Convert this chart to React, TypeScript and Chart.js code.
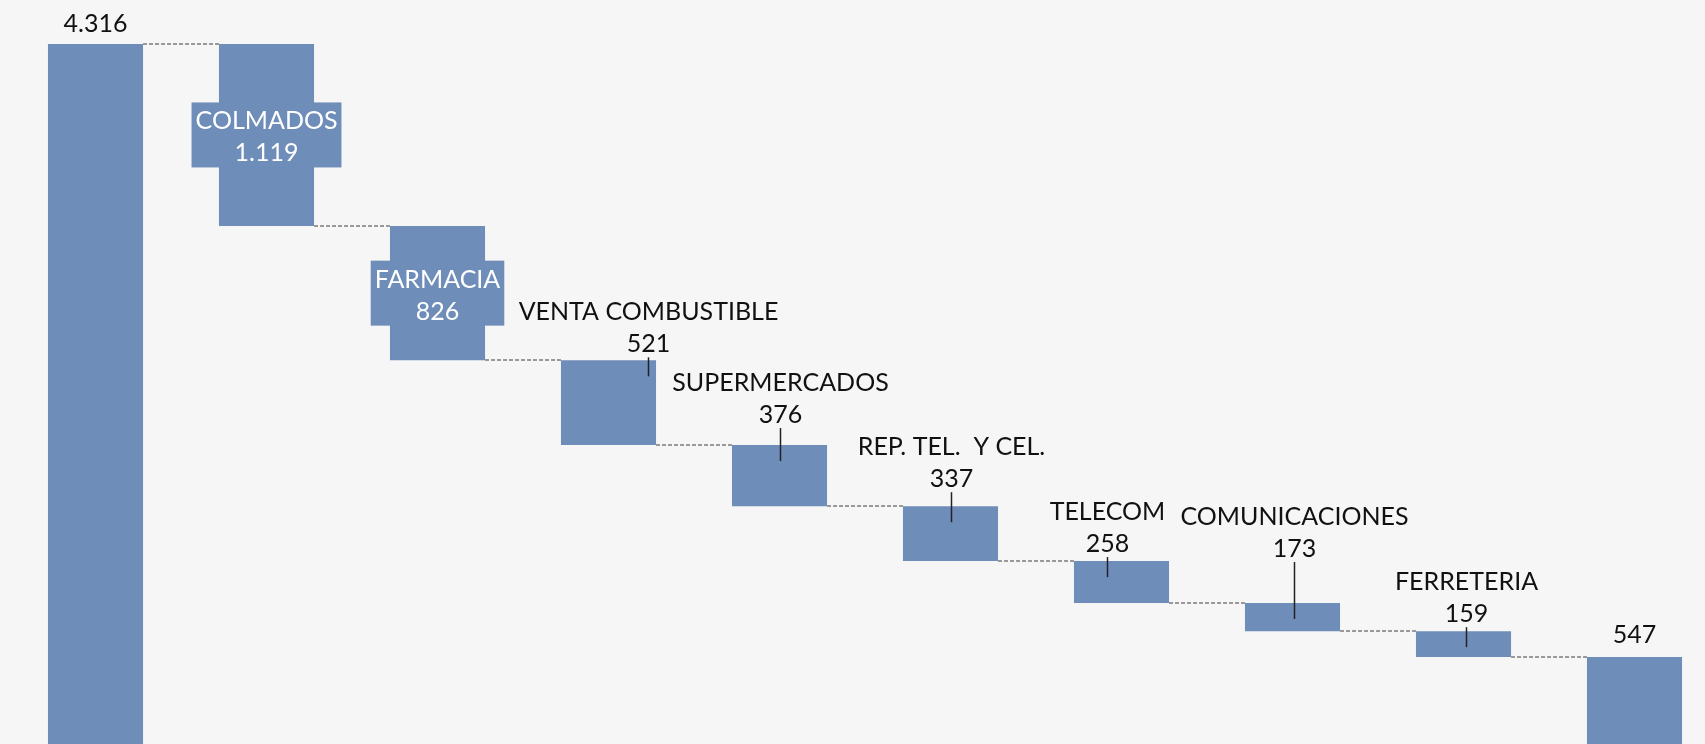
import React, { useEffect, useRef } from "react";
import { Chart, registerables } from "chart.js";

Chart.register(...registerables);

// ---- data ----
const categories = [
  "TOTAL",
  "COLMADOS",
  "FARMACIA",
  "VENTA COMBUSTIBLE",
  "SUPERMERCADOS",
  "REP. TEL.  Y CEL.",
  "TELECOM",
  "COMUNICACIONES",
  "FERRETERIA",
  "RESTO",
];
const values = [4316, -1119, -826, -521, -376, -337, -258, -173, -159, 547];
const kinds = ["total", "delta", "delta", "delta", "delta", "delta", "delta", "delta", "delta", "total"];
// how each label is shown
const labelModes = ["value", "inside", "inside", "leader", "leader", "leader", "leader", "leader", "leader", "value"];
// label placement (pixels) : horizontal shift from bar centre, value baseline above bar top
const labelDx = [0, 0, 0, 40, 1, 1, -14, 2, 3, 0];
const labelDy = [-12, 0, 0, -8, -22, -19, -9, -46, -9, -14];

const BAR_COLOR = "#6e8db9";
const BG = "#f6f6f6";
const FONT = "Lato, 'Open Sans', sans-serif";
const FONT_SIZE = 25;

function fmt(n: number): string {
  const s = String(Math.abs(Math.round(n)));
  return s.replace(/\B(?=(\d{3})+(?!\d))/g, ".");
}

function buildRanges(): [number, number][] {
  let cum = 0;
  return values.map((v, i) => {
    if (kinds[i] === "total") {
      cum = v;
      return [0, v];
    }
    const hi = cum;
    cum = cum + v;
    return [cum, hi];
  });
}

const waterfallPlugin = {
  id: "waterfall",
  beforeDraw(chart: any) {
    const ctx = chart.ctx;
    ctx.save();
    ctx.fillStyle = BG;
    ctx.fillRect(0, 0, chart.width, chart.height);
    ctx.restore();
  },
  afterDatasetsDraw(chart: any) {
    const ctx = chart.ctx;
    const meta = chart.getDatasetMeta(0);
    const yScale = chart.scales.y;
    const ranges = buildRanges();

    // connectors
    ctx.save();
    ctx.strokeStyle = "#7a7a7a";
    ctx.lineWidth = 1.6;
    ctx.setLineDash([4, 2]);
    let cum = 0;
    for (let i = 0; i < values.length - 1; i++) {
      cum = kinds[i] === "total" ? values[i] : cum + values[i];
      const a = meta.data[i];
      const b = meta.data[i + 1];
      const y = Math.round(yScale.getPixelForValue(cum));
      ctx.beginPath();
      ctx.moveTo(a.x + a.width / 2, y);
      ctx.lineTo(b.x - b.width / 2, y);
      ctx.stroke();
    }
    ctx.restore();

    // labels
    ctx.save();
    ctx.font = `${FONT_SIZE}px ${FONT}`;
    ctx.textAlign = "center";
    ctx.textBaseline = "alphabetic";
    for (let i = 0; i < values.length; i++) {
      const el = meta.data[i];
      const topPx = yScale.getPixelForValue(ranges[i][1]);
      const botPx = yScale.getPixelForValue(ranges[i][0]);
      const cx = el.x + labelDx[i];
      const mode = labelModes[i];
      const valText = fmt(values[i]);
      if (mode === "value") {
        ctx.fillStyle = "#111";
        ctx.fillText(valText, cx, topPx + labelDy[i]);
      } else if (mode === "inside") {
        const name = categories[i];
        const w = Math.max(ctx.measureText(name).width, ctx.measureText(valText).width) + 8;
        const h = 65;
        const mid = (topPx + botPx) / 2;
        const boxTop = mid - h / 2;
        ctx.fillStyle = BAR_COLOR;
        ctx.fillRect(cx - w / 2, boxTop, w, h);
        ctx.fillStyle = "#ffffff";
        ctx.fillText(name, cx, boxTop + 27);
        ctx.fillText(valText, cx, boxTop + 59);
      } else {
        const vb = topPx + labelDy[i];
        ctx.fillStyle = "#111";
        ctx.fillText(categories[i], cx, vb - 32);
        ctx.fillText(valText, cx, vb);
        ctx.strokeStyle = "#222";
        ctx.lineWidth = 1.5;
        ctx.beginPath();
        ctx.moveTo(cx, vb + 5);
        ctx.lineTo(cx, topPx + 16);
        ctx.stroke();
      }
    }
    ctx.restore();
  },
};

export default function App() {
  const ref = useRef<HTMLCanvasElement | null>(null);

  useEffect(() => {
    document.body.style.margin = "0";
    document.body.style.overflow = "hidden";
    document.body.style.background = BG;
    const canvas = ref.current;
    if (!canvas) return;
    const chart = new Chart(canvas, {
      type: "bar",
      data: {
        labels: categories,
        datasets: [
          {
            data: buildRanges() as any,
            backgroundColor: BAR_COLOR,
            borderWidth: 0,
            barPercentage: 0.556,
            categoryPercentage: 1,
          },
        ],
      },
      options: {
        responsive: false,
        animation: false,
        devicePixelRatio: 1,
        layout: { padding: { left: 10, right: 0, top: 14, bottom: 0 } },
        plugins: {
          legend: { display: false },
          tooltip: { enabled: false },
          title: { display: false },
        },
        scales: {
          x: { display: false },
          y: { display: false, min: 0, max: 4500 },
        },
      },
      plugins: [waterfallPlugin],
    });
    return () => chart.destroy();
  }, []);

  return (
    <div style={{ position: "absolute", left: 0, top: 0, width: 1705, height: 744, overflow: "hidden", background: BG }}>
      <canvas ref={ref} width={1720} height={746} style={{ display: "block" }} />
    </div>
  );
}
